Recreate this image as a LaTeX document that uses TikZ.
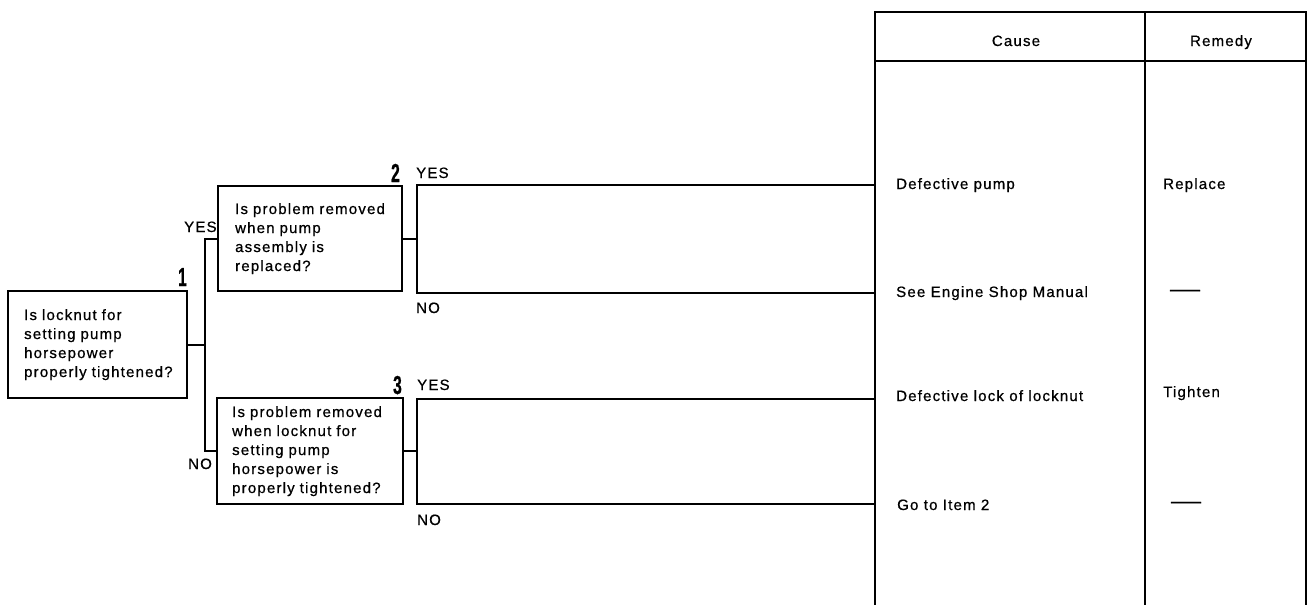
\documentclass[tikz,border=0pt]{standalone}
\usepackage{fontspec}
\usepackage{graphicx}
\setmainfont{Liberation Sans}[LetterSpace=8,FakeBold=0.7]
\newfontfamily\numfont{Liberation Sans}[FakeBold=1]
\tikzset{
  lw/.style={line width=2.3pt},
  qbox/.style={draw, line width=2.3pt, anchor=north west, align=left, inner ysep=0pt,
    font=\fontsize{15}{19}\selectfont},
  lbl/.style={inner sep=0pt, font=\fontsize{15}{19}\selectfont},
  num/.style={anchor=base east, inner sep=0pt, font=\numfont\bfseries\fontsize{26}{26}\selectfont},
}
\newcommand{\numtxt}[1]{\scalebox{0.6}[1]{#1}}
\newcommand{\dashtxt}{\scalebox{2.0}[1.4]{—}}
\begin{document}
\begin{tikzpicture}[x=1pt,y=-1pt]
\useasboundingbox (0,0) rectangle (1307,605);

% question boxes
\node[qbox, text width=147pt, inner xsep=16pt, minimum height=107pt] (b1) at (7,290)
  {\mbox{Is locknut for}\\\mbox{setting pump}\\\mbox{horsepower}\\\mbox{properly tightened?}};
\node[qbox, text width=150pt, inner xsep=17pt, minimum height=105pt] (b2) at (217,185)
  {\mbox{Is problem removed}\\\mbox{when pump}\\\mbox{assembly is}\\\mbox{replaced?}};
\node[qbox, text width=156pt, inner xsep=15pt, minimum height=106pt] (b3) at (216,397)
  {\mbox{Is problem removed}\\\mbox{when locknut for}\\\mbox{setting pump}\\\mbox{horsepower is}\\\mbox{properly tightened?}};

% numbers
\node[num] (n1) at (187,286) {\numtxt{1}};
\node[num] (n2) at (400,182) {\numtxt{2}};
\node[num] (n3) at (402,394) {\numtxt{3}};

% table
\draw[lw] (875,605) -- (875,12) -- (1306,12) -- (1306,605);
\draw[lw] (875,61) -- (1306,61);
\draw[lw] (1145,12) -- (1145,605);

% coordinates
\coordinate (m1) at (205,0);
\coordinate (k1) at (417,185);
\coordinate (k2) at (417,293);
\coordinate (k3) at (417,399);
\coordinate (k4) at (417,504);
\coordinate (c1) at (875,185);
\coordinate (c2) at (875,293);
\coordinate (c3) at (875,399);
\coordinate (c4) at (875,504);

% connectors
\draw[lw] (b1.east) -- (b1.east -| m1);
\draw[lw] (b2.west) -| (m1 |- b3.west) -- (b3.west);
\draw[lw] (b2.east) -- (b2.east -| k1);
\draw[lw] (c1) -- (k1) -- (k2) -- (c2);
\draw[lw] (b3.east) -- (b3.east -| k3);
\draw[lw] (c3) -- (k3) -- (k4) -- (c4);

% branch labels
\node[lbl, anchor=base west] (y1) at (184,232) {YES};
\node[lbl, anchor=base west] (no1) at (188,469) {NO};
\node[lbl, anchor=base west] (y2) at (416,178) {YES};
\node[lbl, anchor=base west] (no2) at (416,313) {NO};
\node[lbl, anchor=base west] (y3) at (417,390) {YES};
\node[lbl, anchor=base west] (no3) at (417,525) {NO};

% table texts
\node[lbl, anchor=base] (hc) at (1016,46) {Cause};
\node[lbl, anchor=base] (hr) at (1221,46) {Remedy};
\node[lbl, anchor=base west] (t1) at (896,189) {Defective pump};
\node[lbl, anchor=base west] (r1) at (1163,189) {Replace};
\node[lbl, anchor=base west] (t2) at (896,297) {See Engine Shop Manual};
\node[lbl] (r2) at (1185,293) {\dashtxt};
\node[lbl, anchor=base west] (t3) at (896,401) {Defective lock of locknut};
\node[lbl, anchor=base west] (r3) at (1163,397) {Tighten};
\node[lbl, anchor=base west] (t4) at (897,510) {Go to Item 2};
\node[lbl] (r4) at (1186,505) {\dashtxt};
\end{tikzpicture}
\end{document}
